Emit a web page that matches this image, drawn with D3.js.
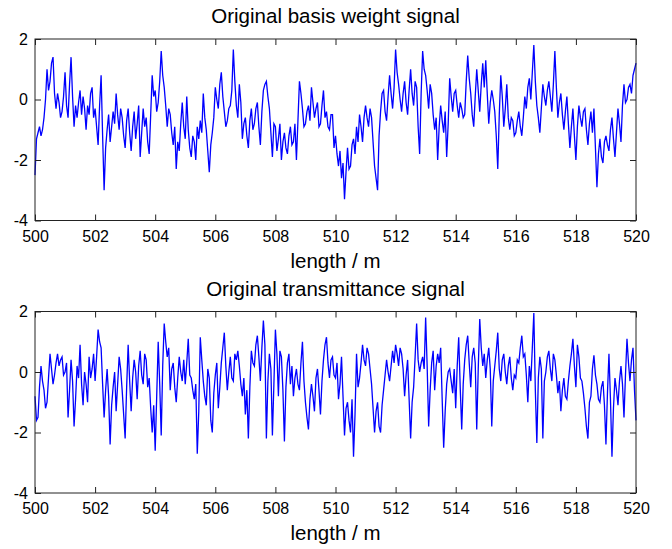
<!DOCTYPE html>
<html>
<head>
<meta charset="utf-8">
<script src="https://cdn.jsdelivr.net/npm/d3@7"></script>
<style>
  body { margin: 0; background: #fff; }
  text { font-family: "Liberation Sans", Arial, sans-serif; fill: #000; }
</style>
</head>
<body>
<div id="chart"></div>
<script>
// Sample positions along the strip (m), one sample every 0.05 m
var startM = 500;
var stepM = 0.05;

// Basis weight signal (one row per metre)
var basisWeight = [
  -2.5, -1.3, -1.1, -0.9, -1.2, -1.0, -0.6, 0.0, 1.0, 0.3, 0.6, 1.2, 1.4, 0.2, -0.3, 0.2, -0.1, -0.6, -0.4, 0.1,
  0.9, -0.2, -0.6, 0.5, 1.4, 0.1, -0.9, -0.2, -0.6, -0.1, 0.3, -0.5, 0.1, -0.3, -1.0, -0.2, -0.5, 0.2, 0.4, -0.6,
  -0.3, -0.9, -1.5, -0.2, 0.8, -1.2, -3.0, -1.6, -1.0, -0.5, -1.4, -0.9, -0.4, -0.8, 0.2, -0.5, -1.0, -0.3, -0.6, -1.2,
  -1.6, -0.7, -0.3, -1.1, -1.7, -0.9, -0.4, -1.3, -0.8, -0.2, -1.9, -1.1, -0.3, -0.9, -0.6, -1.4, -1.8, -0.5, 0.8, 0.1,
  0.3, -0.4, -0.1, 0.6, 1.6, 0.8, 0.4, -0.2, -0.9, -0.3, -0.5, -1.1, -1.5, -0.9, -2.3, -1.4, -1.7, -0.8, -0.1, -0.9,
  -1.3, 0.1, -1.0, -1.6, -1.9, -1.2, -1.4, -2.0, -0.9, -1.3, -0.7, -1.1, 0.2, -0.6, -1.0, -1.7, -2.4, -1.5, -1.1, -0.6,
  0.4, 0.0, -0.3, 0.5, 0.9, 0.1, -0.4, -0.9, -0.7, -0.3, -0.2, 0.3, 1.65, 0.6, -0.2, -0.6, 0.5, -0.1, -1.3, -0.8,
  -0.6, -1.2, -1.6, -0.7, -0.3, -1.0, -0.8, -0.3, -0.1, -0.9, -1.5, -0.4, 0.3, 0.5, 0.6, 0.1, -0.3, -1.1, -1.9, -0.8,
  -0.9, -1.7, -1.3, -0.8, -2.0, -1.4, -1.1, -1.6, -1.8, -1.2, -0.9, -1.5, -1.4, -0.8, -2.0, -0.7, 0.6, 0.2, -0.3, -0.9,
  -0.8, -0.4, -0.2, -0.7, 0.4, -0.1, -0.6, -0.3, -0.1, -0.9, -0.8, -0.2, 0.3, -0.6, -0.4, -0.9, -1.0, -0.5, -0.5, -1.6,
  -1.2, -1.8, -2.2, -1.7, -2.6, -2.1, -3.3, -2.4, -1.6, -2.3, -2.2, -1.5, -1.3, -1.8, -0.9, -1.4, -0.5, -0.9, -1.4, -0.6,
  -0.2, -0.6, -0.9, -0.3, -0.6, -1.4, -2.2, -2.6, -3.0, -1.2, -0.4, 0.2, 0.3, -0.4, -0.7, 0.1, 0.8, 0.2, -0.3, 0.4,
  1.65, 0.9, 0.5, 0.0, -0.4, 0.2, 0.6, -0.1, -0.5, 0.3, 1.0, 0.2, -0.2, 0.6, 0.4, -0.9, -1.8, 0.2, 1.6, 1.0,
  0.8, 0.3, -0.3, 0.5, 0.2, -0.5, -1.0, -0.6, -2.0, -0.9, -0.2, -0.7, -1.1, -0.4, -1.9, -0.8, 0.7, 0.1, -0.4, 0.2,
  0.3, -0.2, -0.6, -0.1, -0.3, -0.6, -0.5, 0.6, 1.45, 0.7, 0.2, -0.5, -0.9, 0.1, 1.0, 0.3, -0.4, 0.5, 1.2, 0.4,
  1.3, 0.2, -0.8, -0.1, 0.3, 0.0, -0.4, -1.2, -2.3, -0.5, 0.8, 0.1, -0.9, -0.3, 0.5, -0.6, -1.0, -0.6, -0.7, -1.2,
  -1.1, -0.7, -0.4, -0.9, -1.2, -0.6, 0.1, -0.3, 0.4, 0.7, 0.0, 0.9, 1.8, 0.6, -0.2, -0.6, -1.1, -0.3, 0.5, 0.1,
  -0.2, 0.3, 0.6, 0.1, -0.4, 0.5, 1.6, 0.4, -0.6, -0.1, 0.2, -0.5, -1.0, -0.4, 0.1, -0.8, -1.6, -0.9, -0.3, -1.2,
  -2.0, -0.9, -0.2, -0.6, -0.9, -0.4, -0.3, -1.0, -1.5, -0.8, -0.4, -1.1, -0.3, -1.6, -2.9, -1.8, -1.3, -1.9, -2.1, -1.4,
  -1.2, -1.5, -1.7, -1.0, -0.6, -1.3, -1.9, -1.1, -0.3, -0.8, -1.4, -0.2, 0.5, -0.1, 0.0, 0.4, 0.5, 0.2, 0.8, 1.0,
  1.2
];

// Transmittance signal (one row per metre)
var transmittance = [
  -0.8, -1.6, -1.5, -0.5, 0.2, -0.3, -0.6, -1.2, -1.0, -0.2, 0.6, 0.1, -0.4, -0.1, 0.3, 0.6, 0.2, 0.4, 0.5, -0.1,
  0.0, 0.3, -1.5, -0.6, 0.4, -0.3, -1.8, -0.9, 0.2, -0.2, 0.9, -0.4, -1.1, 0.0, -0.4, -1.0, 0.5, -0.2, 0.1, 0.6,
  -0.3, 0.5, 1.4, 1.0, 0.8, -0.4, -1.5, -0.6, 0.1, -0.8, -2.4, -1.1, -0.5, 0.0, -1.3, -0.4, 0.5, 0.1, -0.6, -1.4,
  -2.2, -0.5, 0.9, -0.3, -1.3, -0.2, 0.4, 0.0, -0.9, 0.2, 0.7, -0.1, -0.4, 0.6, 0.4, -0.5, -0.2, -1.2, -2.0, -1.1,
  -2.6, -0.8, 1.0, -0.4, -2.1, 0.2, 1.6, 1.0, 0.5, 0.8, -0.6, 0.1, 0.3, -0.5, -1.0, -0.2, 0.5, 0.0, -0.3, 0.4,
  -0.4, 0.3, 1.1, -0.1, -0.2, -0.6, -0.9, -0.4, -2.7, -1.3, 1.15, 0.4, -0.3, -0.8, -1.1, 0.1, -0.2, -1.6, -2.0, -0.7,
  -0.1, 0.3, -1.2, -0.5, 0.3, 0.8, 1.3, 0.2, -0.6, 0.0, 0.5, -0.2, -0.3, 0.6, 0.4, 0.7, 0.2, -0.4, -0.8, -0.2,
  -1.4, -0.6, -2.2, -0.5, 0.7, 0.3, 0.2, 0.9, 1.2, 0.5, -0.3, 0.8, 1.7, 0.9, -2.2, -0.3, 0.6, 0.1, -2.1, -0.4,
  1.4, 0.6, -0.8, 0.7, 0.5, -0.6, -2.3, -0.5, 0.3, 0.6, -0.4, 0.2, -0.8, -0.2, 0.1, -0.4, -0.6, 0.3, 1.0, -0.3,
  -1.0, -1.5, -1.9, -0.9, -0.4, -0.8, -1.3, -0.2, 0.1, -0.6, -1.4, -0.3, 0.4, 0.9, 1.15, 0.3, -0.2, 0.4, 0.5, -0.1,
  -0.2, 0.3, -0.9, -0.4, 0.5, -0.8, -2.1, -1.2, -1.0, -1.6, -2.0, -0.9, -2.8, -1.4, 0.6, -0.5, -0.2, 0.3, 0.9, 0.4,
  0.2, 0.8, 0.6, 0.1, -0.4, -1.2, -2.0, -1.3, -1.0, -1.8, -2.0, -1.1, -0.6, -0.1, 0.4, 0.0, -0.3, 0.2, 0.7, 0.3,
  0.9, 0.6, 0.2, 0.8, 0.6, 0.1, -0.8, -0.1, 0.4, -0.9, -2.2, -1.0, -0.5, 0.5, 1.6, 0.4, 0.0, 0.3, 0.5, 0.1,
  1.8, 0.2, -1.8, -0.6, 0.3, 0.7, -0.6, 0.2, 0.6, 0.3, 0.8, -0.9, -2.5, -1.3, -0.4, 0.0, 0.1, -0.3, -0.7, 0.1,
  -1.2, 0.2, 1.15, -0.5, -1.9, -0.4, 0.4, 0.9, 1.2, 0.3, -0.5, 0.5, 0.8, 0.3, -1.9, 0.1, 1.75, 0.8, 0.2, 0.6,
  -0.2, 0.4, 0.8, 0.1, -1.8, -0.3, 0.2, 0.7, 1.3, 0.1, -0.3, 0.4, 0.6, 0.0, -0.4, 0.2, 0.5, -0.2, -0.6, -0.1,
  -0.2, 0.4, 0.3, 0.8, 1.2, 0.5, 0.6, -0.1, -1.0, 0.2, -0.3, 0.8, 1.95, -0.6, -2.35, -0.2, 0.5, 0.1, -2.2, -0.3,
  0.0, 0.5, 0.7, 0.1, -0.3, 0.6, 0.4, -0.1, -0.7, -0.3, -1.3, -0.6, -0.2, -0.8, -0.9, -0.3, 0.2, 0.6, 1.1, 0.2,
  -0.5, 0.9, 0.5, -0.2, -0.3, -0.7, -1.2, -1.8, -2.2, -1.0, -0.8, 0.1, 0.55, -0.1, -0.4, -0.9, -1.0, -0.5, -0.3, -1.1,
  -2.4, -0.7, 0.6, -0.9, -2.8, -1.2, -0.2, -0.6, -1.1, -0.3, 0.2, -0.4, -1.5, -0.1, 1.1, 0.3, -0.3, 0.4, 0.8, -0.6,
  -1.6
];

var panelTitles = ["Original basis weight signal", "Original transmittance signal"];
var xTicks = [500, 502, 504, 506, 508, 510, 512, 514, 516, 518, 520];
var yTicks = [-4, -2, 0, 2];
var xLabel = "length / m";

// Figure size and panel frames
var svgWidth = 672;
var svgHeight = 549;
var plotLeft = 35;
var plotRight = 636;
var panelTops = [39, 311.5];
var plotHeight = 181.5;

var svg = d3.select("#chart")
  .append("svg")
  .attr("width", svgWidth)
  .attr("height", svgHeight);

svg.append("rect")
  .attr("width", svgWidth)
  .attr("height", svgHeight)
  .attr("fill", "#fff");

var xScale = d3.scaleLinear()
  .domain([500, 520])
  .range([0, plotRight - plotLeft]);

var yScale = d3.scaleLinear()
  .domain([-4, 2])
  .range([plotHeight, 0]);

var line = d3.line()
  .x((d, i) => xScale(startM + i * stepM))
  .y(d => yScale(d));

function drawPanel(values, title, top) {
  var g = svg.append("g")
    .attr("transform", `translate(${plotLeft}, ${top})`);

  // signal trace
  g.append("path")
    .datum(values)
    .attr("fill", "none")
    .attr("stroke", "#0000ff")
    .attr("stroke-width", 1.3)
    .attr("d", line);

  // inward ticks on all four sides, labels only bottom and left
  var bottom = g.append("g")
    .attr("transform", `translate(0, ${plotHeight})`)
    .call(d3.axisBottom(xScale).tickValues(xTicks).tickSize(-6).tickPadding(10).tickFormat(d3.format("d")));
  var top_ = g.append("g")
    .call(d3.axisTop(xScale).tickValues(xTicks).tickSize(-6).tickFormat(""));
  var left = g.append("g")
    .call(d3.axisLeft(yScale).tickValues(yTicks).tickSize(-6).tickPadding(7).tickFormat(d => d < 0 ? "-" + Math.abs(d) : d));
  var right = g.append("g")
    .attr("transform", `translate(${plotRight - plotLeft}, 0)`)
    .call(d3.axisRight(yScale).tickValues(yTicks).tickSize(-6).tickFormat(""));

  [bottom, top_, left, right].forEach(a => {
    a.select(".domain").remove();
    a.selectAll("line").attr("stroke", "#222");
    a.selectAll("text")
      .attr("font-family", "'Liberation Sans', Arial, sans-serif")
      .attr("font-size", "16px")
      .attr("fill", "#000");
  });

  // frame
  g.append("rect")
    .attr("width", plotRight - plotLeft)
    .attr("height", plotHeight)
    .attr("fill", "none")
    .attr("stroke", "#222")
    .attr("stroke-width", 1);

  // title
  g.append("text")
    .attr("x", (plotRight - plotLeft) / 2)
    .attr("y", -16)
    .attr("text-anchor", "middle")
    .attr("font-size", "20.5px")
    .text(title);

  // x label
  g.append("text")
    .attr("x", (plotRight - plotLeft) / 2)
    .attr("y", plotHeight + 47)
    .attr("text-anchor", "middle")
    .attr("font-size", "20.5px")
    .text(xLabel);
}

drawPanel(basisWeight, panelTitles[0], panelTops[0]);
drawPanel(transmittance, panelTitles[1], panelTops[1]);
</script>
</body>
</html>
